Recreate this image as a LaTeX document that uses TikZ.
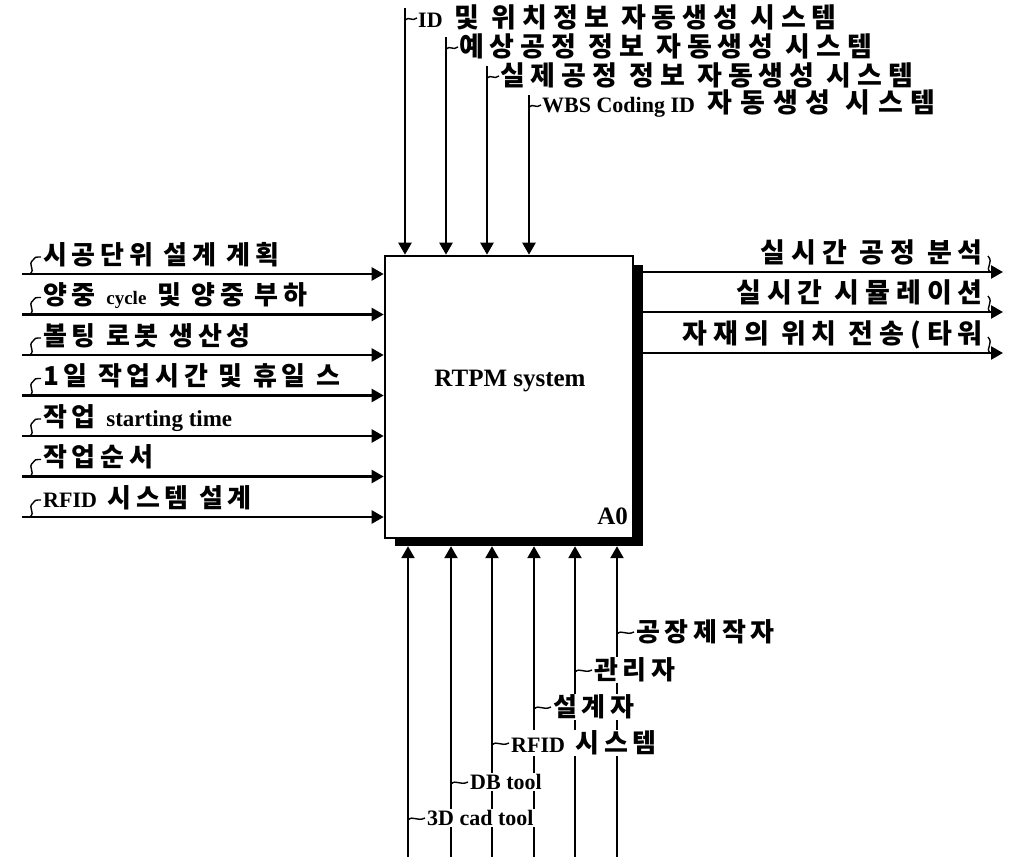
\documentclass[tikz,border=0pt]{standalone}
\usepackage{fontspec}
\setmainfont{Liberation Serif}
\newfontfamily\krfont{Noto Sans CJK KR}[LetterSpace=18]
\newfontfamily\krwide{Noto Sans CJK KR}[LetterSpace=22]
\newfontfamily\latfont{Liberation Serif}
\newcommand\hgl[1]{{\krfont\bfseries\fontsize{26}{26}\selectfont #1}}
\newcommand\hglw[1]{{\krwide\bfseries\fontsize{27}{27}\selectfont #1}}
\newcommand\ltn[1]{{\latfont\bfseries\fontsize{22}{22}\selectfont #1}}
\newcommand\ltns[1]{{\latfont\bfseries\fontsize{19}{19}\selectfont #1}}
\usetikzlibrary{arrows.meta}
\begin{document}
\begin{tikzpicture}[x=1pt,y=-1pt,
  flow/.style={line width=2.4pt,-{Triangle[length=12pt,width=13pt]}},
  hook/.style={line width=1.4pt},
  lbl/.style={inner sep=1pt,font=\krfont\bfseries\fontsize{26}{26}\selectfont},
  wide/.style={inner sep=1pt,font=\krwide\bfseries\fontsize{27}{27}\selectfont},
  wlbl/.style={lbl,fill=white}]
\useasboundingbox (0,0) rectangle (1010,857);

% box with shadow
\node[fill=black,minimum width=248pt,minimum height=281pt,inner sep=0] (shadow) at (519,405.5) {};
\node[draw,line width=2.6pt,fill=white,minimum width=248pt,minimum height=282pt,inner sep=0] (box) at (509,397) {};
\node[inner sep=1pt,font=\latfont\bfseries\fontsize{25}{25}\selectfont] (title) at (510,381) {RTPM system};
\node[inner sep=1pt,anchor=east,font=\latfont\bfseries\fontsize{25}{25}\selectfont] (a0) at (629,516) {A0};

% top controls
\foreach \i/\x/\y/\t in {
  1/405/17/{\ltn{ID} \hglw{및 위치정보 자동생성 시스템}},
  2/446/46/{\hglw{예상공정 정보 자동생성 시스템}},
  3/487/75/{\hglw{실제공정 정보 자동생성 시스템}},
  4/529/104/{\ltn{WBS Coding ID} \hglw{\addfontfeature{LetterSpace=30}자동생성 시스템}}} {
  \coordinate (ts\i) at (\x,\y-9);
  \draw[flow] (ts\i) -- (ts\i |- box.north);
  \draw[hook] (\x,\y+3) .. controls (\x+4,\y-1) and (\x+7,\y+5) .. (\x+12,\y+1);
  \node[wide,anchor=west] (tl\i) at (\x+12,\y) {\t};
}

% left inputs
\foreach \i/\t in {
  1/{\hgl{시공단위 설계 계획}},
  2/{\hgl{양중} \ltns{cycle} \hgl{및 양중 부하}},
  3/{\hgl{볼팅 로봇 생산성}},
  4/{\hgl{1일 작업시간 및 휴일 스}},
  5/{\hgl{작업} \ltn{\fontsize{23}{23}\selectfont starting time}},
  6/{\hgl{작업순서}},
  7/{\ltn{RFID} \hgl{시스템 설계}}} {
  \pgfmathsetmacro\yy{274+40.5*(\i-1)}
  \coordinate (ls\i) at (22,\yy);
  \draw[flow] (ls\i) -- (ls\i -| box.west);
  \draw[hook] (30,\yy) .. controls (36,\yy-5) and (27,\yy-9) .. (33,\yy-14) .. controls (35,\yy-17) .. (41,\yy-17);
  \node[lbl,anchor=base west] (ll\i) at (42,\yy-10) {\t};
}

% right outputs
\foreach \i/\y/\t in {
  1/272/{\hglw{실시간 공정 분석}},
  2/312/{\hglw{실시간 시뮬레이션}},
  3/353/{\hglw{자재의 위치 전송(타워}}} {
  \coordinate (re\i) at (1003,\y);
  \draw[flow] (shadow.east |- re\i) -- (re\i);
  \draw[hook] (990,\y) .. controls (985,\y-5) and (994,\y-9) .. (988,\y-16);
  \node[wide,anchor=base east] (rl\i) at (984,\y-10) {\t};
}

% bottom mechanisms
\foreach \i/\x in {1/408,2/451,3/492,4/534,5/575,6/617} {
  \coordinate (bs\i) at (\x,857);
  \draw[flow] (bs\i) -- (bs\i |- shadow.south);
}
\foreach \i/\x/\y/\t in {
  1/408/818/{\ltn{3D cad tool}},
  2/451/782/{\ltn{DB tool}},
  3/492/743/{\ltn{RFID} \hgl{시스템}},
  4/534/707/{\hgl{설계자}},
  5/575/670/{\hgl{관리자}},
  6/617/632/{\hgl{공장제작자}}} {
  \draw[hook] (\x,\y+2) .. controls (\x+5,\y-3) and (\x+9,\y+4) .. (\x+17,\y);
  \node[wlbl,anchor=west] (bl\i) at (\x+18,\y) {\t};
}
\end{tikzpicture}
\end{document}
